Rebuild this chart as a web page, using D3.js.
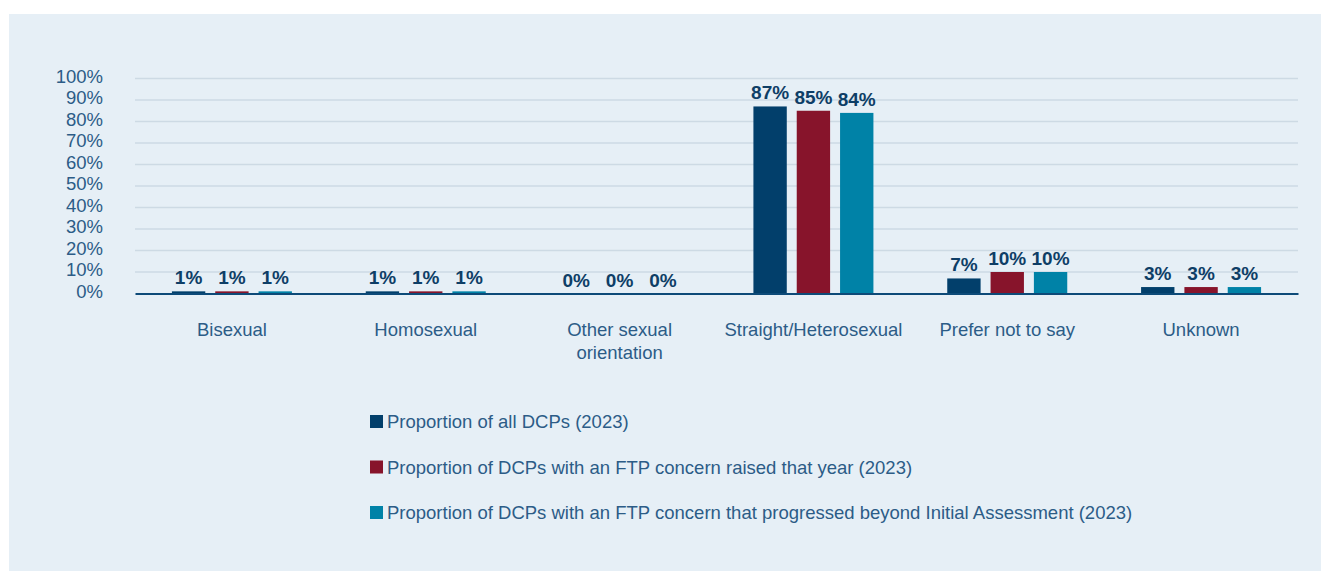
<!DOCTYPE html>
<html><head><meta charset="utf-8">
<script src="https://cdn.jsdelivr.net/npm/d3@7"></script>
<style>
html,body{margin:0;padding:0;background:#fff;}
svg{display:block;font-family:"Liberation Sans",Arial,Helvetica,sans-serif;}
</style></head>
<body>
<svg id="chart" width="1322" height="571"></svg>
<script>
const categories = ["Bisexual","Homosexual","Other sexual orientation","Straight/Heterosexual","Prefer not to say","Unknown"];
const categoryLines = [["Bisexual"],["Homosexual"],["Other sexual","orientation"],["Straight/Heterosexual"],["Prefer not to say"],["Unknown"]];
const seriesNames = [
  "Proportion of all DCPs (2023)",
  "Proportion of DCPs with an FTP concern raised that year (2023)",
  "Proportion of DCPs with an FTP concern that progressed beyond Initial Assessment (2023)"
];
const allDCPs = [1,1,0,87,7,3];
const ftpRaised = [1,1,0,85,10,3];
const ftpProgressed = [1,1,0,84,10,3];
const yTicks = [0,10,20,30,40,50,60,70,80,90,100];
const colors = ["#023f6b","#87142b","#0082a7"];

(function(){
const series = [allDCPs, ftpRaised, ftpProgressed];
const svg = d3.select("#chart");
svg.append("rect").attr("x",9).attr("y",14).attr("width",1312).attr("height",557).attr("fill","#e6eff6");

const pLeft = 135, pRight = 1298, pTop = 78.5, pBottom = 293.5;
const x = d3.scaleBand().domain(categories).range([pLeft,pRight]).paddingInner(0).paddingOuter(0);
const y = d3.scaleLinear().domain([0,100]).range([pBottom,pTop]);
const xs = d3.scaleBand().domain([0,1,2]).range([0,120]).paddingInner(0.23);

// gridlines
svg.append("g").selectAll("line").data(yTicks.filter(t=>t>0)).join("line")
  .attr("x1",pLeft).attr("x2",pRight).attr("y1",d=>y(d)).attr("y2",d=>y(d))
  .attr("stroke","#cddae4").attr("stroke-width",1.5);

// y axis labels
const yAxis = d3.axisLeft(y).tickValues(yTicks).tickFormat(d=>d+"%").tickSize(0).tickPadding(0);
const yg = svg.append("g").attr("transform",`translate(${103},0)`).call(yAxis);
yg.select(".domain").remove();
yg.selectAll("text").attr("fill","#2c5c87").attr("font-size",18.5).attr("font-family",null).attr("dy","0.2em");

// bars
const groups = svg.append("g").selectAll("g").data(categories).join("g")
  .attr("transform",d=>`translate(${x(d)+x.bandwidth()/2-60},0)`);
groups.each(function(c,ci){
  const g = d3.select(this);
  series.forEach((s,si)=>{
    const v = s[ci];
    g.append("rect").attr("x",xs(si)).attr("width",xs.bandwidth())
      .attr("y",y(v)).attr("height",pBottom-y(v)).attr("fill",colors[si]);
    g.append("text").attr("x",xs(si)+xs.bandwidth()/2).attr("y",y(v)-7)
      .attr("text-anchor","middle").attr("font-size",19).attr("font-weight","bold")
      .attr("fill","#0e3e66").text(v+"%");
  });
});

// baseline axis
const xAxis = d3.axisBottom(x).tickSize(0).tickFormat("");
const xg = svg.append("g").attr("transform",`translate(0,${pBottom})`).call(xAxis);
xg.select(".domain").attr("stroke","#0d4a78").attr("stroke-width",2.2);

// category labels
categories.forEach((c,i)=>{
  const t = svg.append("text").attr("x",x(c)+x.bandwidth()/2).attr("y",336)
    .attr("text-anchor","middle").attr("font-size",18.5).attr("fill","#2c5c87");
  categoryLines[i].forEach((ln,li)=>{
    t.append("tspan").attr("x",x(c)+x.bandwidth()/2).attr("dy",li===0?0:23).text(ln);
  });
});

// legend
const lg = svg.append("g").selectAll("g").data(seriesNames).join("g")
  .attr("transform",(d,i)=>`translate(370,${422+i*45.5})`);
lg.append("rect").attr("x",0).attr("y",-7).attr("width",13).attr("height",13).attr("fill",(d,i)=>colors[i]);
lg.append("text").attr("x",17).attr("y",0).attr("dy","0.35em").attr("font-size",18.5).attr("fill","#2c5c87").text(d=>d);
})();
</script>
</body></html>
